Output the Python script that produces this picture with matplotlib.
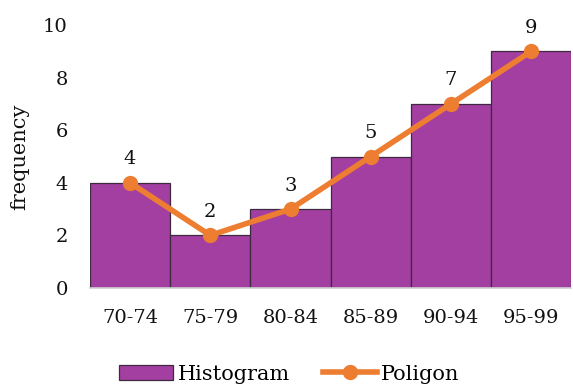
import matplotlib
matplotlib.use("Agg")
import matplotlib.pyplot as plt
from matplotlib.lines import Line2D
from matplotlib.patches import Patch

classes = ["70-74", "75-79", "80-84", "85-89", "90-94", "95-99"]
frequency = [4, 2, 3, 5, 7, 9]

bar_color = "#A43FA2"
edge_color = "#3E2A3E"
line_color = "#ED7D31"

plt.rcParams["font.family"] = ["DejaVu Serif"]

fig = plt.figure(figsize=(5.73, 3.85), dpi=100)
ax = fig.add_axes([0.157, 0.252, 0.84, 0.683])

x = list(range(len(classes)))
ax.bar(x, frequency, width=1.0, color=bar_color, edgecolor=edge_color,
       linewidth=0.9, zorder=2)
ax.plot(x, frequency, color=line_color, linewidth=4, marker="o",
        markersize=10, zorder=3)
for xi, v in zip(x, frequency):
    ax.annotate(str(v), (xi, v), xytext=(0, 10.5), textcoords="offset points",
                ha="center", va="bottom", fontsize=14, color="#111111")

ax.set_xlim(-0.5, len(classes) - 0.5)
ax.set_ylim(0, 10)
ax.set_yticks(range(0, 11, 2))
ax.set_xticks(x)
ax.set_xticklabels(classes)
ax.tick_params(axis="both", length=0, labelsize=14, colors="#111111")
ax.tick_params(axis="x", pad=15)
ax.tick_params(axis="y", pad=16)
for side in ("top", "right", "left"):
    ax.spines[side].set_visible(False)
ax.spines["bottom"].set_color("#D0D0D0")
ax.spines["bottom"].set_linewidth(1.2)
ax.set_ylabel("frequency", fontsize=15, labelpad=10, color="#111111")

handles = [
    Patch(facecolor=bar_color, edgecolor=edge_color, linewidth=0.9),
    Line2D([], [], color=line_color, linewidth=4, marker="o", markersize=10),
]
fig.legend(handles, ["Histogram", "Poligon"], loc="lower center",
           bbox_to_anchor=(0.505, -0.045), ncol=2, frameon=False, fontsize=15,
           handlelength=2.6, handletextpad=0.2, columnspacing=1.6)

fig.savefig("out.png", dpi=100)
